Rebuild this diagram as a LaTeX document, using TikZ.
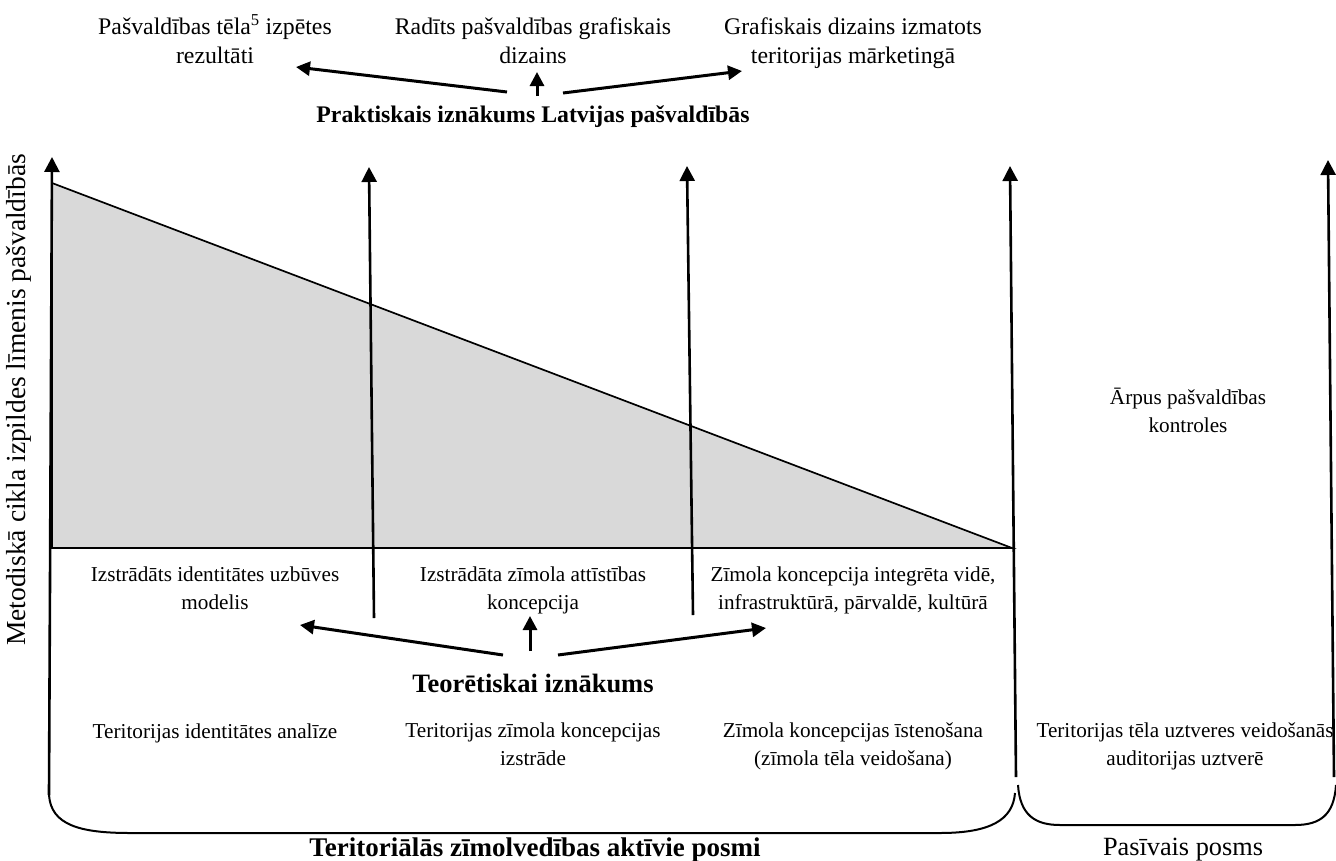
\documentclass[tikz,border=0pt]{standalone}
\usepackage{fontspec}
\setmainfont{Liberation Serif}
\usetikzlibrary{arrows.meta}
\definecolor{shade}{HTML}{D9D9D9}
\begin{document}
\begin{tikzpicture}[x=1pt,y=-1pt,
  uparrow/.style={line width=2.6pt,-{Triangle[length=15pt,width=15pt]}},
  smallarrow/.style={line width=3pt,-{Triangle[length=14pt,width=14pt]}},
  bracket/.style={line width=2pt},
  lbl/.style={align=center,inner sep=0pt,execute at begin node={\strut},execute at end node={\strut}},
  toptext/.style={lbl,font=\fontsize{23.8}{29}\selectfont},
  toptitle/.style={lbl,font=\fontsize{23.8}{29}\selectfont\bfseries},
  midtext/.style={lbl,font=\fontsize{21.2}{28}\selectfont},
  bigtitle/.style={lbl,font=\fontsize{26.5}{30}\selectfont\bfseries},
  bottomtitle/.style={lbl,font=\fontsize{27}{30}\selectfont\bfseries},
  bigtext/.style={lbl,font=\fontsize{26.3}{30}\selectfont},
  sidetext/.style={lbl,font=\fontsize{27.5}{30}\selectfont}
]
\useasboundingbox (0,0) rectangle (1336,860);

% shaded level triangle
\filldraw[fill=shade,line width=1.7pt,line join=miter] (52,183) -- (52,548) -- (1012,548) -- cycle;

% practical outcomes
\node[toptext] (t1) at (215,45) {Pašvaldības tēla\smash{\textsuperscript{5}} izpētes\\rezultāti};
\node[toptext] (t2) at (533,45) {Radīts pašvaldības grafiskais\\dizains};
\node[toptext] (t3) at (853,45) {Grafiskais dizains izmatots\\teritorijas mārketingā};
\node[toptitle] (prak) at (533,117) {Praktiskais iznākums Latvijas pašvaldībās};

\coordinate (pL) at (507,92);  \coordinate (pLt) at (296,67);
\coordinate (pM) at (537,96);  \coordinate (pMt) at (537,72);
\coordinate (pR) at (563,93);  \coordinate (pRt) at (742,71);
\draw[smallarrow] (pL) -- (pLt);
\draw[smallarrow] (pM) -- (pMt);
\draw[smallarrow] (pR) -- (pRt);

% vertical axes
\coordinate (a0b) at (49,795);   \coordinate (a0t) at (52,157);
\coordinate (a1b) at (374,618);  \coordinate (a1t) at (369,167);
\coordinate (a2b) at (693,615);  \coordinate (a2t) at (687,166);
\coordinate (a3b) at (1016,777); \coordinate (a3t) at (1010,166);
\coordinate (a4b) at (1334,777); \coordinate (a4t) at (1328,160);
\draw[uparrow] (a0b) -- (a0t);
\draw[uparrow] (a1b) -- (a1t);
\draw[uparrow] (a2b) -- (a2t);
\draw[uparrow] (a3b) -- (a3t);
\draw[uparrow] (a4b) -- (a4t);

% left axis label
\node[sidetext,rotate=90] (ylab) at (19,400) {Metodiskā cikla izpildes līmenis pašvaldībās};

% theoretical outcomes
\node[midtext] (i1) at (215,592) {Izstrādāts identitātes uzbūves\\modelis};
\node[midtext] (i2) at (533,592) {Izstrādāta zīmola attīstības\\koncepcija};
\node[midtext] (i3) at (853,592) {Zīmola koncepcija integrēta vidē,\\infrastruktūrā, pārvaldē, kultūrā};
\node[bigtitle] (teor) at (533,686) {Teorētiskai iznākums};

\coordinate (tL) at (503,655); \coordinate (tLt) at (300,625);
\coordinate (tM) at (530,651); \coordinate (tMt) at (530,616);
\coordinate (tR) at (558,655); \coordinate (tRt) at (766,628);
\draw[smallarrow] (tL) -- (tLt);
\draw[smallarrow] (tM) -- (tMt);
\draw[smallarrow] (tR) -- (tRt);

% outside control
\node[midtext] (arp) at (1188,414) {Ārpus pašvaldības\\kontroles};

% stages
\node[midtext] (s1) at (215,733) {Teritorijas identitātes analīze};
\node[midtext] (s2) at (533,748) {Teritorijas zīmola koncepcijas\\izstrāde};
\node[midtext] (s3) at (853,748) {Zīmola koncepcijas īstenošana\\(zīmola tēla veidošana)};
\node[midtext] (s4) at (1185,748) {Teritorijas tēla uztveres veidošanās\\auditorijas uztverē};

% brackets
\draw[bracket] (a0b) .. controls (51,825) and (80,833) .. (130,833) -- (940,833)
  .. controls (990,833) and (1013,820) .. (1015,793);
\draw[bracket] (1018,785) .. controls (1020,815) and (1035,825) .. (1060,825) -- (1295,825)
  .. controls (1320,825) and (1334,815) .. (1336,785);

\node[bottomtitle] (act) at (535,850) {Teritoriālās zīmolvedības aktīvie posmi};
\node[bigtext] (pas) at (1183,849) {Pasīvais posms};
\end{tikzpicture}
\end{document}
